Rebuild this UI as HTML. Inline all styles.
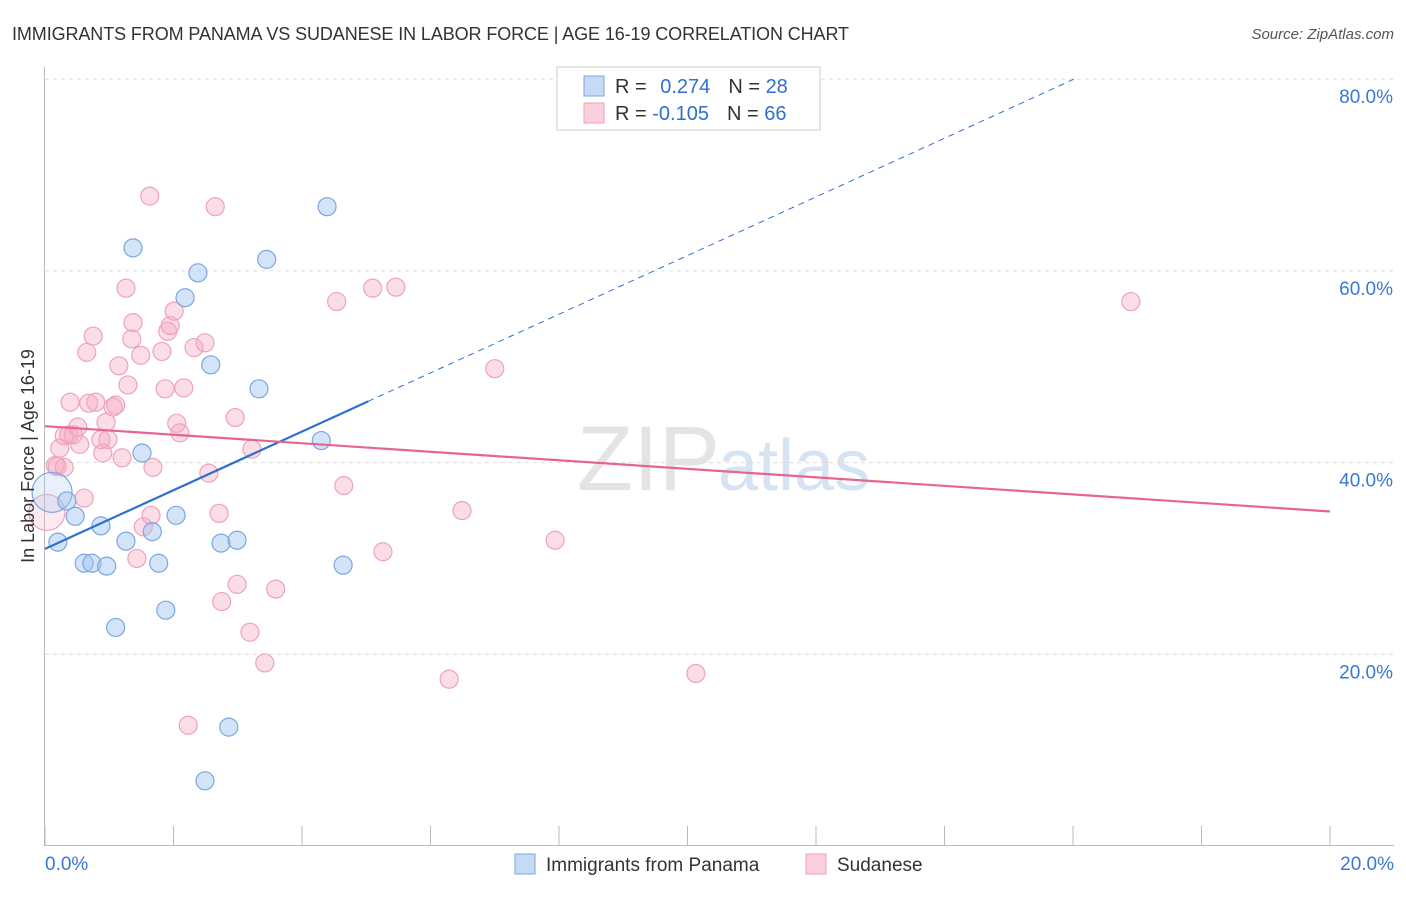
<!DOCTYPE html>
<html><head><meta charset="utf-8"><style>
body{margin:0;background:#fff;font-family:"Liberation Sans",sans-serif;}
svg text{font-family:"Liberation Sans",sans-serif;}
</style></head><body>
<svg id="chart" width="1406" height="892" xmlns="http://www.w3.org/2000/svg">
<text x="12" y="40" font-size="18" fill="#333" letter-spacing="-0.1">IMMIGRANTS FROM PANAMA VS SUDANESE IN LABOR FORCE | AGE 16-19 CORRELATION CHART</text>
<text x="1394" y="39" font-size="15" fill="#555" text-anchor="end" font-style="italic">Source: ZipAtlas.com</text>
<text x="720" y="490" font-size="92" fill="#e4e4e4" text-anchor="end" font-family="Liberation Serif">ZIP</text>
<text x="718" y="490" font-size="72" fill="#d6e3f3">atlas</text>
<g id="grid"></g>
<g id="axes"></g>
<g id="pts"></g>
<g id="trend"></g>
<text transform="translate(34,456) rotate(-90)" font-size="18" fill="#333" text-anchor="middle">In Labor Force | Age 16-19</text>
<g>
<rect x="557" y="67" width="263" height="63" fill="#fff" stroke="#ccc"/>
<rect x="584" y="76" width="20" height="20" fill="#c5daf5" stroke="#7aa7e0"/>
<rect x="584" y="103" width="20" height="20" fill="#fbcfdc" stroke="#eea3ba"/>
<text x="615" y="93" font-size="20" fill="#333">R = <tspan fill="#2f6fd0" dx="8">0.274</tspan><tspan dx="18">N = </tspan><tspan fill="#2f6fd0">28</tspan></text>
<text x="615" y="120" font-size="20" fill="#333">R = <tspan fill="#2f6fd0">-0.105</tspan><tspan dx="18">N = </tspan><tspan fill="#2f6fd0">66</tspan></text>
</g>
<g>
<rect x="515" y="854" width="20" height="20" fill="#c5daf5" stroke="#7aa7e0"/>
<text x="546" y="871" font-size="19" fill="#333">Immigrants from Panama</text>
<rect x="806" y="854" width="20" height="20" fill="#fbcfdc" stroke="#eea3ba"/>
<text x="837" y="871" font-size="19" fill="#333">Sudanese</text>
</g>
</svg>
<script>
const yTicks=[20,40,60,80];
const yTickLabels=["20.0%","40.0%","60.0%","80.0%"];
const xTickLabels=["0.0%","20.0%"];
const blueX=[0.11,0.20,0.34,0.47,0.61,0.73,0.87,0.96,1.10,1.26,1.37,1.51,1.67,1.77,1.88,2.04,2.18,2.38,2.58,2.74,2.86,2.99,2.49,3.33,3.45,4.30,4.39,4.64];
const blueY=[36.9,31.7,36.0,34.4,29.5,29.5,33.4,29.2,22.8,31.8,62.4,41.0,32.8,29.5,24.6,34.5,57.2,59.8,50.2,31.6,12.4,31.9,6.8,47.7,61.2,42.3,66.7,29.3];
const pinkX=[0.03,0.16,0.19,0.23,0.30,0.37,0.39,0.44,0.51,0.54,0.61,0.65,0.68,0.75,0.79,0.87,0.90,0.95,0.98,1.06,1.10,1.15,1.20,1.26,1.29,1.37,1.35,1.43,1.49,1.53,1.65,1.68,1.82,1.87,1.91,1.95,2.01,2.05,2.10,2.16,2.23,2.32,2.49,2.55,2.65,2.71,2.75,2.96,2.99,3.19,3.22,3.42,3.59,1.63,4.54,4.65,5.10,5.26,5.46,6.29,6.49,7.00,7.94,10.13,16.90,0.30];
const pinkY=[34.8,39.7,39.6,41.5,42.8,42.9,46.3,42.9,43.7,41.9,36.3,51.5,46.2,53.2,46.3,42.4,41.0,44.2,42.4,45.8,46.0,50.1,40.5,58.2,48.1,54.6,52.9,30.0,51.2,33.3,34.5,39.5,51.6,47.7,53.7,54.3,55.8,44.1,43.1,47.8,12.6,52.0,52.5,38.9,66.7,34.7,25.5,44.7,27.3,22.3,41.4,19.1,26.8,67.8,56.8,37.6,58.2,30.7,58.3,17.4,35.0,49.8,31.9,18.0,56.8,39.5];
const blueTrend=[31.0,3.06];
const pinkTrend=[43.8,-0.445];
const NS="http://www.w3.org/2000/svg";
const X=v=>45+v*1285/20;
const Y=v=>846-v*191.7/20;
function mk(tag,attrs,parent){const e=document.createElementNS(NS,tag);for(const k in attrs)e.setAttribute(k,attrs[k]);document.getElementById(parent).appendChild(e);return e;}
yTicks.forEach((t,i)=>{
 const g=mk('line',{x1:45,x2:1394,y1:Y(t),y2:Y(t),stroke:'#ddd','stroke-dasharray':'4,4'},'grid');
 
 
 const l=mk('text',{x:1393,y:Y(t)+24,'font-size':19,fill:'#3a78d6','text-anchor':'end'},'grid');
 l.textContent=yTickLabels[i];
 
 
});
const ya=mk('line',{x1:44.5,x2:44.5,y1:67,y2:846,stroke:'#bbb'},'axes');


const xa=mk('line',{x1:44,x2:1394,y1:845.5,y2:845.5,stroke:'#bbb'},'axes');


for(let i=0;i<=10;i++){
 const t=mk('line',{x1:X(i*2),x2:X(i*2),y1:826,y2:846,stroke:'#bbb'},'axes');
 
 
}
[[0,'start',45],[20,'end',1394]].forEach((d,i)=>{
 const l=mk('text',{x:d[2],y:870,'font-size':19,fill:'#3a78d6','text-anchor':d[1]},'axes');
 l.textContent=xTickLabels[i];
 
 
});
pinkX.forEach((x,i)=>{
 const c=mk('circle',{cx:X(x),cy:Y(pinkY[i]),r:i===0?18:9,fill:i===0?'rgba(246,170,195,0.25)':'rgba(246,170,195,0.4)',stroke:'#eea3ba','stroke-width':1.2},'pts');
 
 
});
blueX.forEach((x,i)=>{
 const c=mk('circle',{cx:X(x),cy:Y(blueY[i]),r:i===0?20:9,fill:i===0?'rgba(160,196,240,0.25)':'rgba(160,196,240,0.45)',stroke:'#7aa7e0','stroke-width':1.2},'pts');
 
 
});
const bx1=5.03,bx2=(80-blueTrend[0])/blueTrend[1];
const b1=mk('line',{x1:X(0),y1:Y(blueTrend[0]),x2:X(bx1),y2:Y(blueTrend[0]+blueTrend[1]*bx1),stroke:'#2f6fd0','stroke-width':2.2},'trend');


const b2=mk('line',{x1:X(bx1),y1:Y(blueTrend[0]+blueTrend[1]*bx1),x2:X(bx2),y2:Y(80),stroke:'#2f6fd0','stroke-width':1,'stroke-dasharray':'6,5'},'trend');


const p1=mk('line',{x1:X(0),y1:Y(pinkTrend[0]),x2:X(20),y2:Y(pinkTrend[0]+pinkTrend[1]*20),stroke:'#e8648f','stroke-width':2.2},'trend');


</script>
</body></html>
